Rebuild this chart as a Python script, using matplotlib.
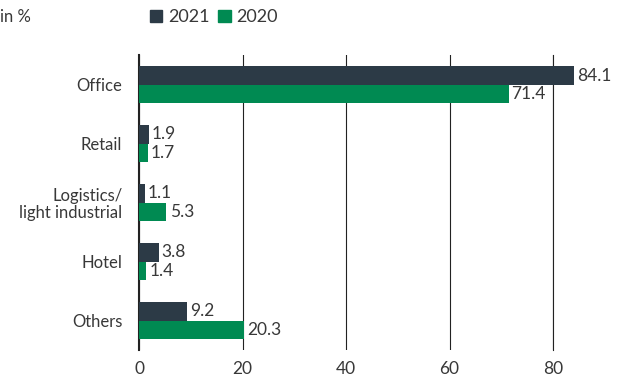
import numpy as np
import matplotlib.pyplot as plt
from matplotlib.patches import Patch

# -----------------------------
# Data
# -----------------------------
categories = ["Office", "Retail", "Logistics/\nlight industrial", "Hotel", "Others"]
values_2021 = [84.1, 1.9, 1.1, 3.8, 9.2]
values_2020 = [71.4, 1.7, 5.3, 1.4, 20.3]
x_ticks = [0, 20, 40, 60, 80]

dark = "#2c3a46"
green = "#008a52"
text_color = "#383838"

plt.rcParams["font.family"] = ["Lato", "DejaVu Sans"]

fig = plt.figure(figsize=(6.17, 3.83), dpi=100)
ax = fig.add_axes([0.2253, 0.086, 0.671, 0.77])

y = np.arange(len(categories))
h = 0.31
ax.barh(y - h / 2, values_2021, height=h, color=dark, clip_on=False, zorder=3)
ax.barh(y + h / 2, values_2020, height=h, color=green, clip_on=False, zorder=3)

for yi, v in zip(y, values_2021):
    ax.text(v + 0.6, yi - h / 2, f"{v}", va="center", ha="left", fontsize=12.5, color=text_color)
for yi, v in zip(y, values_2020):
    ax.text(v + 0.6, yi + h / 2, f"{v}", va="center", ha="left", fontsize=12.5, color=text_color)

ax.set_xlim(0, 80)
ax.set_ylim(len(categories) - 0.5, -0.5)
ax.set_xticks(x_ticks)
ax.set_yticks(y)
ax.set_yticklabels(categories, fontsize=12, color=text_color, linespacing=1.05)
ax.tick_params(axis="x", length=0, pad=8, labelsize=12.5, labelcolor=text_color)
ax.tick_params(axis="y", length=0, pad=12)

for s in ["top", "right", "bottom"]:
    ax.spines[s].set_visible(False)
ax.spines["left"].set_linewidth(1.5)
ax.spines["left"].set_color("#222222")

ax.xaxis.grid(True, color="#222222", linewidth=0.8)
ax.set_axisbelow(True)
# keep gridline at 80 visible even though it sits on the axis edge
ax.axvline(80, color="#222222", linewidth=0.8, zorder=0, clip_on=False)

fig.text(0.0, 0.955, "in %", fontsize=12, color=text_color, va="center")
handles = [Patch(color=dark, label="2021"), Patch(color=green, label="2020")]
fig.legend(handles=handles, loc="center left", bbox_to_anchor=(0.228, 0.955),
           ncol=2, frameon=False, fontsize=13, handlelength=0.7, handleheight=0.7,
           handletextpad=0.3, columnspacing=0.5, borderpad=0, labelcolor=text_color)

plt.savefig("out.png", dpi=100)
